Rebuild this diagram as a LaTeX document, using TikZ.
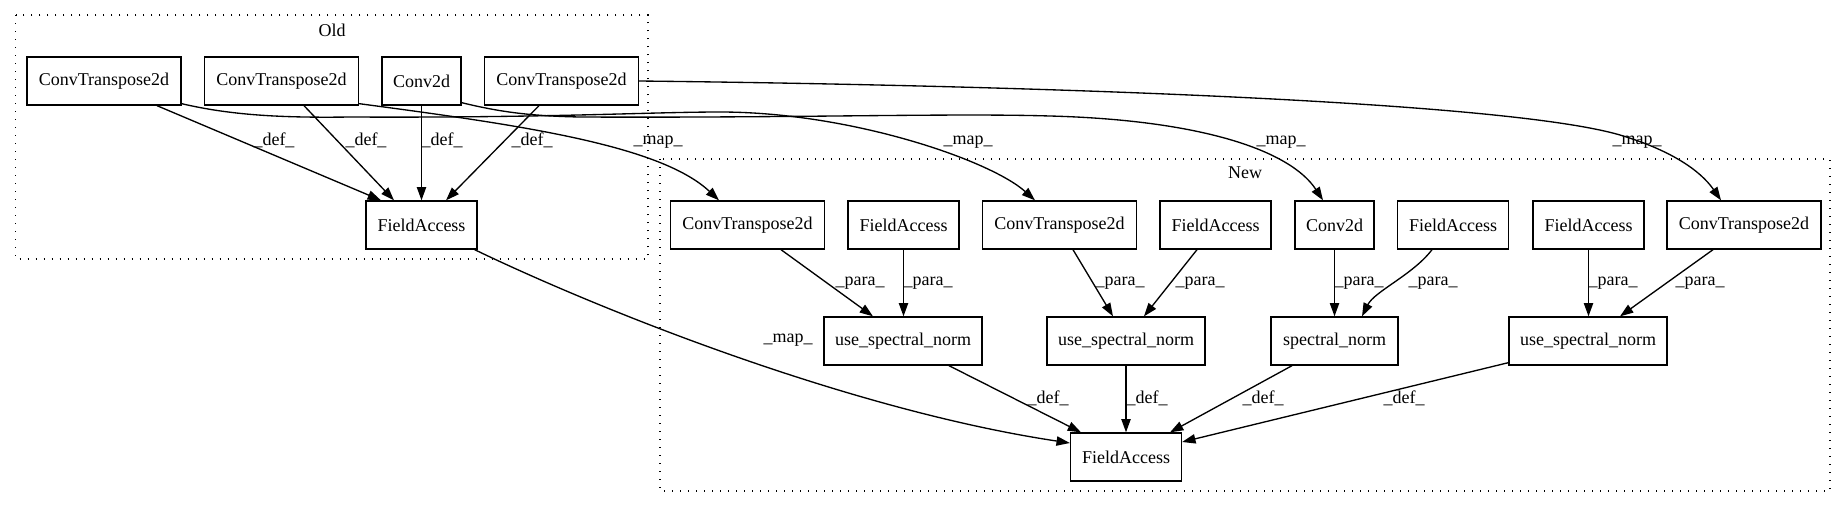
\documentclass[tikz,border=0pt]{standalone}
\usepackage{fontspec}
\setmainfont{Liberation Serif}
\usetikzlibrary{arrows.meta,calc}
\begin{document}
\begin{tikzpicture}[x=0.75pt,y=-0.75pt,
  box/.style={draw,line width=1pt,minimum height=36pt,inner sep=0pt,font=\fontsize{13.5}{16}\selectfont},
  ct/.style={box,minimum width=115.5pt},
  fa/.style={box,minimum width=83.25pt},
  cv/.style={box,minimum width=59.25pt},
  usn/.style={box,minimum width=118.5pt},
  sn/.style={box,minimum width=95.25pt},
  edge/.style={line width=1pt,-{Triangle[length=10pt,width=7pt]}},
  lbl/.style={font=\fontsize{13.5}{16}\selectfont,inner sep=0pt},
  cluster/.style={line width=1pt,dash pattern=on 1pt off 5pt}]
\useasboundingbox (0,0) rectangle (1848,508);
% clusters
\draw[cluster] (15.6,15) rectangle (648,259);
\node[lbl] (oldlbl) at (332,30) {Old};
\draw[cluster] (660,159) rectangle (1830,491);
\node[lbl] (newlbl) at (1245,173) {New};
% Old nodes
\node[ct] (oCT1) at (104,81) {ConvTranspose2d};
\node[ct] (oCT2) at (281.5,81) {ConvTranspose2d};
\node[cv] (oConv) at (421.5,81) {Conv2d};
\node[ct] (oCT3) at (561.5,81) {ConvTranspose2d};
\node[fa] (oFA) at (421.5,225) {FieldAccess};
% New nodes
\node[ct] (nCT1) at (747.5,225) {ConvTranspose2d};
\node[fa] (nFA1) at (903.5,225) {FieldAccess};
\node[ct] (nCT2) at (1059.5,225) {ConvTranspose2d};
\node[fa] (nFA2) at (1215.5,225) {FieldAccess};
\node[cv] (nConv) at (1334.5,225) {Conv2d};
\node[fa] (nFA3) at (1453,225) {FieldAccess};
\node[fa] (nFA4) at (1588.5,225) {FieldAccess};
\node[ct] (nCT4) at (1744,225) {ConvTranspose2d};
\node[usn] (nUSN1) at (903,341) {use\_spectral\_norm};
\node[usn] (nUSN2) at (1126,341) {use\_spectral\_norm};
\node[sn] (nSN) at (1334.5,341) {spectral\_norm};
\node[usn] (nUSN4) at (1588,341) {use\_spectral\_norm};
\node[fa] (nFAb) at (1126,457) {FieldAccess};
% Old def edges
\draw[edge] ($(oCT1.south)+(53,0)$) -- ($(oFA.north)+(-40.5,0)$);
\draw[edge] ($(oCT2.south)+(22.5,0)$) -- ($(oFA.north)+(-27.5,0)$);
\draw[edge] (oConv.south) -- (oFA.north);
\draw[edge] ($(oCT3.south)+(-22.5,0)$) -- ($(oFA.north)+(24.5,0)$);
\node[lbl] (l1) at (274,140) {\_def\_};
\node[lbl] (l2) at (366,140) {\_def\_};
\node[lbl] (l3) at (442,140) {\_def\_};
\node[lbl] (l4) at (532,140) {\_def\_};
% map edges
\draw[edge] ($(oCT2.south east)+(0,-2)$) .. controls (520,125) and (660,145) .. ($(nCT1.north)+(-28.5,0)$);
\draw[edge] ($(oCT1.south east)+(0,-2)$) .. controls (230,115) and (280,118) .. (350,117)
  .. controls (550,118) and (650,112) .. (720,112)
  .. controls (850,112) and (990,160) .. ($(nCT2.north)+(-24.5,0)$);
\draw[edge] ($(oConv.south east)+(0,-3)$) .. controls (500,112) and (530,116) .. (580,117)
  .. controls (800,118) and (950,113) .. (1050,116)
  .. controls (1200,120) and (1290,150) .. ($(nConv.north)+(-11.5,0)$);
\draw[edge] (oCT3.east) .. controls (1000,85) and (1500,100) .. (1620,135)
  .. controls (1670,150) and (1700,170) .. ($(nCT4.north)+(-23,0)$);
\draw[edge] ($(oFA.south east)+(-3,0)$) .. controls (600,310) and (850,410) .. ($(nFAb.west)+(0,-14)$);
\node[lbl] (m1) at (658,142) {\_map\_};
\node[lbl] (m2) at (968,142) {\_map\_};
\node[lbl] (m3) at (1281,142) {\_map\_};
\node[lbl] (m4) at (1637,142) {\_map\_};
\node[lbl] (m5) at (788,340) {\_map\_};
% para edges
\draw[edge] ($(nCT1.south)+(33.5,0)$) -- ($(nUSN1.north)+(-30,0)$);
\draw[edge] (nFA1.south) -- (nFA1.south |- nUSN1.north);
\draw[edge] ($(nCT2.south)+(13.5,0)$) -- ($(nUSN2.north)+(-13,0)$);
\draw[edge] ($(nFA2.south)+(-18.5,0)$) -- ($(nUSN2.north)+(18,0)$);
\draw[edge] (nConv.south) -- (nSN.north);
\draw[edge] ($(nFA3.south)+(-21,0)$) .. controls ($(nFA3.south)+(-40,25)$) and ($(nSN.north)+(40,-25)$) .. ($(nSN.north)+(27.5,0)$);
\draw[edge] (nFA4.south) -- (nFA4.south |- nUSN4.north);
\draw[edge] ($(nCT4.south)+(-31,0)$) -- ($(nUSN4.north)+(32,0)$);
\node[lbl] (p1) at (860,283) {\_para\_};
\node[lbl] (p2) at (928,283) {\_para\_};
\node[lbl] (p3) at (1120,283) {\_para\_};
\node[lbl] (p4) at (1200,283) {\_para\_};
\node[lbl] (p5) at (1359,283) {\_para\_};
\node[lbl] (p6) at (1433,283) {\_para\_};
\node[lbl] (p7) at (1613,283) {\_para\_};
\node[lbl] (p8) at (1700,283) {\_para\_};
% def edges new
\draw[edge] ($(nUSN1.south)+(46,0)$) -- ($(nFAb.north)+(-45,0)$);
\draw[edge] (nUSN2.south) -- (nFAb.north);
\draw[edge] ($(nSN.south)+(-42.5,0)$) -- ($(nFAb.north)+(44,0)$);
\draw[edge] ($(nUSN4.south west)+(0,-3)$) -- ($(nFAb.east)+(0,-15)$);
\node[lbl] (d1) at (1048,398) {\_def\_};
\node[lbl] (d2) at (1147,398) {\_def\_};
\node[lbl] (d3) at (1263,398) {\_def\_};
\node[lbl] (d4) at (1404,398) {\_def\_};
\end{tikzpicture}
\end{document}
